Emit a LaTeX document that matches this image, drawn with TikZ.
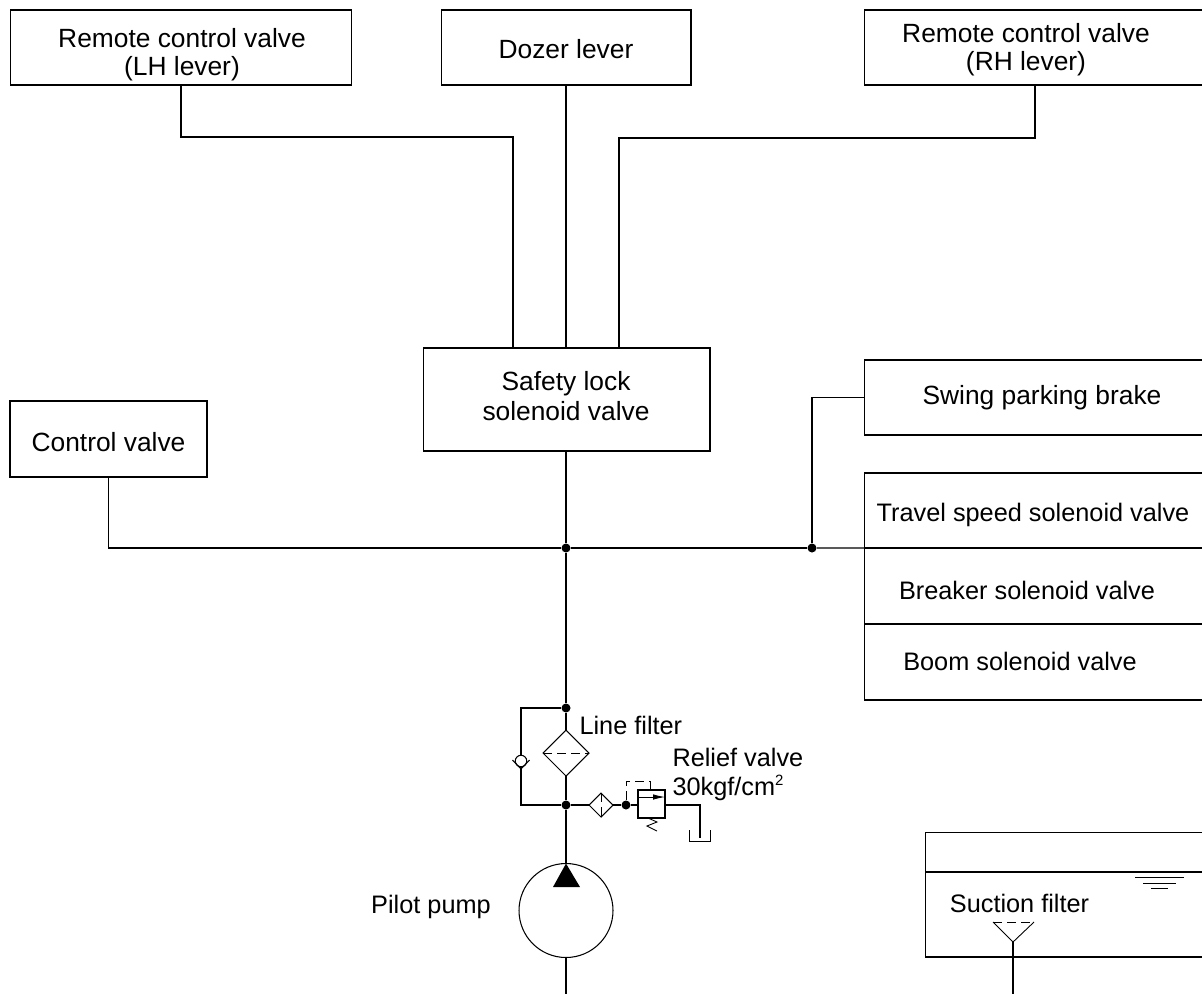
\documentclass[tikz,border=0pt]{standalone}
\usepackage{fontspec}
\setmainfont{Liberation Sans}
\usepackage{tikz}
\usetikzlibrary{arrows.meta, positioning, shapes.geometric}

\begin{document}
\begin{tikzpicture}[
  x=0.02cm, y=-0.02cm,
  line width=0.6pt,
  unit/.style={rectangle, draw, inner sep=0pt, outer sep=0pt, minimum width=6.84cm,
    minimum height=1.5cm},
  lbl/.style={inner sep=0pt, align=center, font=\fontsize{15}{16}\selectfont},
  smalllbl/.style={inner sep=0pt, align=left, font=\fontsize{14.4}{16.5}\selectfont},
  jdot/.style={circle, fill=black, inner sep=0pt, minimum size=0.18cm},
  filt/.style={diamond, draw, inner sep=0pt, outer sep=0pt, aspect=1},
  pipe/.style={line width=0.6pt},
  pilotline/.style={dash pattern=on 5pt off 3pt, line width=0.5pt}
]
  \useasboundingbox (0,0) rectangle (1202,994);

  % upper boxes
  \node[unit] (lhv) at (181,47.5) {};
  \node[lbl] (lhvtext) at (182,55) {Remote control valve\\(LH lever)};
  \node[unit, minimum width=5cm] (dozer) at (566,47.5) {};
  \node[lbl] (dozertext) at (566,49) {Dozer lever};
  \node[unit] (rhv) at (1035,47.5) {};
  \node[lbl] (rhvtext) at (1026,50) {Remote control valve\\(RH lever)};
  \node[unit, minimum width=5.74cm, minimum height=2.06cm] (safety) at (566.5,399.5) {};
  \node[lbl, font=\fontsize{15}{17}\selectfont] (safetytext) at (566,396) {Safety lock\\solenoid valve};
  \node[unit, minimum width=3.94cm, minimum height=1.52cm] (ctrl) at (108.5,439) {};
  \node[lbl] (ctrltext) at (108.5,442) {Control valve};

  % right hand boxes
  \node[unit] (swing) at (1035,397.5) {};
  \node[lbl] (swingtext) at (1042,398) {Swing parking brake};
  \node[unit] (travel) at (1035,510.5) {};
  \node[smalllbl] (traveltext) at (1033,515) {Travel speed solenoid valve};
  \node[unit, minimum height=1.52cm] (breaker) at (1035,586) {};
  \node[smalllbl] (breakertext) at (1027,590) {Breaker solenoid valve};
  \node[unit, minimum height=1.52cm] (boom) at (1035,662) {};
  \node[smalllbl] (boomtext) at (1020,661) {Boom solenoid valve};

  % junctions
  \node[jdot] (jmain) at (566,548) {};
  \node[jdot] (jswing) at (812,548) {};
  \node[jdot] (jtop) at (566,708) {};
  \node[jdot] (jlow) at (566,805) {};
  \node[jdot] (jrel) at (626,805) {};
  \coordinate (safeL) at (513,348);
  \coordinate (safeR) at (619,348);
  \coordinate (safeM) at (566,348);
  \coordinate (safeS) at (566,451);

  \draw[pipe] (lhv.south) -- (181,137) -- (513,137) -- (safeL);
  \draw[pipe] (dozer.south) -- (safeM);
  \draw[pipe] (rhv.south) -- (1035,138) -- (619,138) -- (safeR);
  \draw[pipe] (safeS) -- (jmain);
  \draw[pipe] (ctrl.south) |- (jmain);
  \draw[pipe] (jmain) -- (jswing);
  \draw[pipe] (jswing) -- (travel.south west);
  \draw[pipe] (swing.west) -| (jswing);
  \draw[pipe] (jmain) -- (jtop);

  % line filter and bypass
  \node[filt, minimum size=0.92cm] (lfilter) at (566,753) {};
  \draw[pilotline] (lfilter.west) -- (lfilter.east);
  \node[smalllbl, anchor=west] (lftext) at (579,725) {Line filter};
  \node[circle, draw, fill=white, inner sep=0pt, minimum size=0.23cm] (check) at (521,761) {};
  \coordinate (chka) at (512.5,760);
  \coordinate (chkb) at (521,769);
  \coordinate (chkc) at (529.5,760);
  \draw[pipe] (jtop) -- (lfilter.north);
  \draw[pipe] (lfilter.south) -- (jlow);
  \draw[pipe] (jtop) -| (check.north);
  \draw[pipe] (check.south) |- (jlow);
  \draw[pipe] (chka) -- (chkb) -- (chkc);

  % relief valve
  \node[filt, minimum size=0.48cm] (sfilter) at (601,805) {};
  \draw[pilotline] (sfilter.north) -- (sfilter.south);
  \node[rectangle, draw, inner sep=0pt, outer sep=0pt, minimum width=0.54cm, minimum height=0.56cm] (relief) at (651.5,804) {};
  \coordinate (relL) at (638,797);
  \coordinate (relR) at (665,797);
  \coordinate (pilot) at (650,790);
  \coordinate (tanktop) at (700,838);
  \node[smalllbl, anchor=west] (reltext) at (672,774.5) {Relief valve\\30kgf/cm\raisebox{0.75ex}{\fontsize{8.5}{9}\selectfont 2}};
  \draw[pipe] (jlow) -- (sfilter.west);
  \draw[pipe] (sfilter.east) -- (jrel);
  \draw[pipe] (jrel) -- (relief.west |- jrel);
  \draw[-{Latex[length=2.4mm,width=1.1mm]}, line width=0.5pt] (relL) -- (relR);
  \draw[pilotline] (jrel) |- (650,781) -- (pilot);
  \draw[line width=0.5pt] (648,818) -- (657,822) -- (647,826) -- (657,831);
  \draw[pipe] (relief.east |- jrel) -| (tanktop);
  \draw[line width=0.5pt] (689,830) |- (710,841) -- (710,830);

  % pilot pump
  \node[circle, draw, inner sep=0pt, outer sep=0pt, minimum size=1.88cm] (pump) at (566,910.5) {};
  \coordinate (pumpout) at (566,994);
  \fill (pump.north) -- (580,887) -- (553,887) -- cycle;
  \draw[pipe] (jlow) -- (pump.north);
  \draw[pipe] (pump.south) -- (pumpout);
  \node[smalllbl] (pumptext) at (431,907) {Pilot pump};

  % tank
  \node[unit, minimum width=5.62cm, minimum height=2.5cm] (tank) at (1065.5,894.5) {};
  \coordinate (lvlL) at (tank.west |- 0,872);
  \coordinate (lvlR) at (tank.east |- 0,872);
  \coordinate (sfout) at (1013,994);
  \coordinate (funa) at (993,922);
  \coordinate (funb) at (1034,922);
  \coordinate (func) at (1013,942);
  \draw[pipe] (lvlL) -- (lvlR);
  \draw[line width=0.5pt] (1135,877) -- (1184,877);
  \draw[line width=0.5pt] (1143,883) -- (1176,883);
  \draw[line width=0.5pt] (1151,888) -- (1168,888);
  \node[smalllbl] (suctext) at (1019.5,903) {Suction filter};
  \draw[line width=0.5pt] (funa) -- (func) -- (funb);
  \draw[pilotline] (funa) -- (funb);
  \draw[pipe] (func) -- (sfout);
\end{tikzpicture}
\end{document}
